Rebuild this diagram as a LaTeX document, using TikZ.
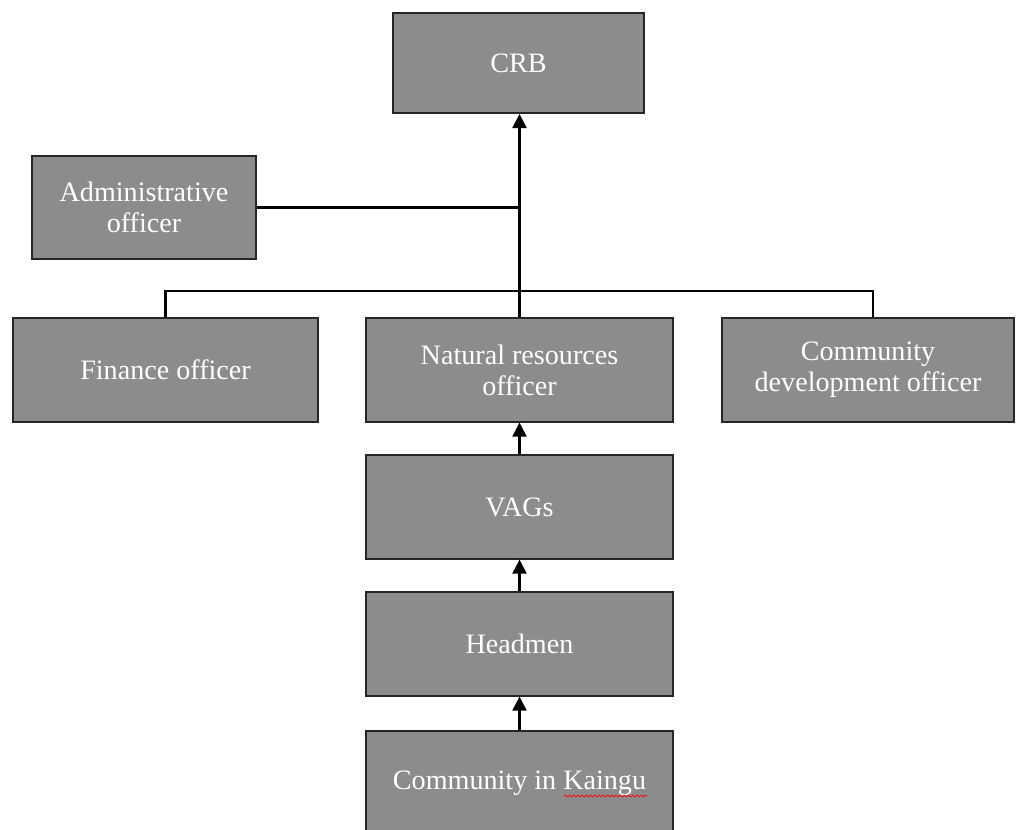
\documentclass[tikz,border=0pt]{standalone}
\usepackage{fontspec}
\setmainfont{Liberation Serif}
\usetikzlibrary{arrows.meta,decorations.pathmorphing}

\tikzset{
  unit/.style={draw=black!85, fill=black!45, text=white, line width=1.4pt,
    align=center, font=\fontsize{20}{22}\selectfont, inner sep=2pt,
    minimum height=2.58cm},
  link/.style={line width=1.5pt},
  up/.style={link, -{Triangle[width=10pt,length=10pt]}}
}

\begin{document}
\begin{tikzpicture}[x=0.025cm,y=-0.025cm]
\useasboundingbox (0,0) rectangle (1016,829);

\node[unit, minimum width=6.275cm, minimum height=2.5cm] (crb) at (518.5,63) {CRB};
\node[unit, minimum width=5.6cm] (admin) at (144,207.5) {Administrative\\officer};
\node[unit, minimum width=7.625cm] (finance) at (165.5,370) {Finance officer};
\node[unit, minimum width=7.675cm] (natres) at (519.5,370) {Natural resources\\officer};
\node[unit, minimum width=7.3cm] (commdev) at (868,370) {Community\\development officer};
\node[unit, minimum width=7.675cm] (vags) at (519.5,507) {VAGs};
\node[unit, minimum width=7.675cm] (headmen) at (519.5,644) {Headmen};
\node[unit, minimum width=7.675cm] (community) at (519.5,783) {Community in Kaingu};

% spell-check mark under Kaingu
\draw[red, line width=0.5pt, decorate, decoration={snake, amplitude=0.7pt, segment length=3pt}]
  (564,796) -- (647,796);

\draw[up] (natres.north) -- (natres.north |- crb.south);
\draw[link] (admin.east) -- (admin.east -| natres.north);
\coordinate (cdtop) at ([xshift=0.125cm]commdev.north);
\draw[link] (finance.north) -- ++(0,-26) -| (cdtop);

\foreach \a/\b in {vags/natres, headmen/vags, community/headmen} {
\draw[up] (\a) -- (\b);
}
\end{tikzpicture}
\end{document}
